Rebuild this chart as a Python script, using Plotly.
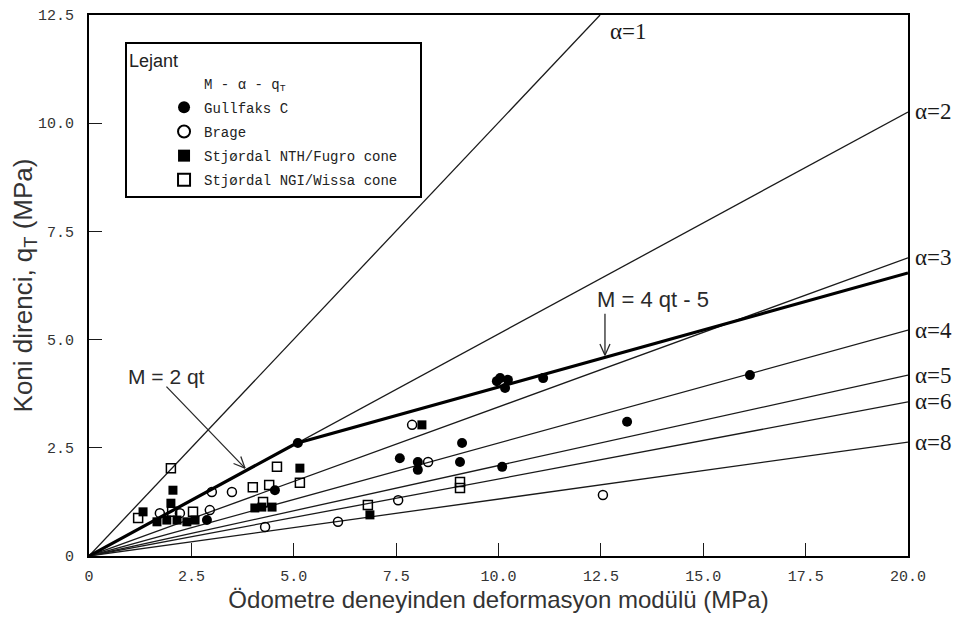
import math
import plotly.graph_objects as go

# ---------------- data ----------------
# alpha reference lines: start at origin, end points read at the plot edge
alpha_labels = ["α=1", "α=2", "α=3", "α=4", "α=5", "α=6", "α=8"]
alpha_end_x = [12.48, 20, 20, 20, 20, 20, 20]
alpha_end_y = [12.5, 10.26, 6.89, 5.22, 4.18, 3.56, 2.63]

# bold relation M = 2 qt  /  M = 4 qt - 5
bold_x = [0, 5.05, 20]
bold_y = [0, 2.6, 6.54]

# Gullfaks C (filled circles)
gull_x = [10.04, 10.23, 10.16, 9.96, 11.09, 16.14, 13.14, 10.09, 9.11, 9.06, 7.59, 8.03, 8.03, 5.10, 4.54, 2.88]
gull_y = [4.11, 4.07, 3.88, 4.04, 4.11, 4.18, 3.10, 2.06, 2.61, 2.17, 2.26, 2.17, 1.99, 2.61, 1.52, 0.83]

# Brage (open circles)
brage_x = [7.89, 8.28, 7.55, 6.08, 4.30, 3.49, 3.00, 2.95, 2.22, 1.73, 12.55]
brage_y = [3.03, 2.17, 1.29, 0.79, 0.67, 1.48, 1.48, 1.06, 0.99, 0.99, 1.41]

# Stjørdal NTH/Fugro cone (filled squares)
nth_x = [2.05, 2.00, 1.32, 1.66, 1.90, 2.15, 2.39, 2.59, 4.05, 4.22, 4.47, 5.15, 8.13, 6.86]
nth_y = [1.52, 1.22, 1.02, 0.79, 0.83, 0.83, 0.79, 0.83, 1.11, 1.13, 1.13, 2.03, 3.03, 0.95]

# Stjørdal NGI/Wissa cone (open squares)
ngi_x = [2.00, 1.20, 2.03, 2.54, 4.00, 4.40, 4.25, 4.59, 5.15, 9.06, 9.06, 6.81]
ngi_y = [2.03, 0.88, 1.02, 1.02, 1.59, 1.64, 1.25, 2.06, 1.69, 1.71, 1.57, 1.18]

x_ticks = [0, 2.5, 5, 7.5, 10, 12.5, 15, 17.5, 20]
x_ticktext = ["0", "2.5", "5.0", "7.5", "10.0", "12.5", "15.0", "17.5", "20.0"]
y_ticks = [0, 2.5, 5, 7.5, 10, 12.5]
y_ticktext = ["0", "2.5", "5.0", "7.5", "10.0", "12.5"]

# ---------------- figure ----------------
fig = go.Figure()
INK = "#1a1a1a"

for lab, ex, ey in zip(alpha_labels, alpha_end_x, alpha_end_y):
    fig.add_trace(go.Scatter(x=[0, ex], y=[0, ey], mode="lines",
                             line=dict(color=INK, width=1.3),
                             showlegend=False, hoverinfo="skip"))

fig.add_trace(go.Scatter(x=bold_x, y=bold_y, mode="lines",
                         line=dict(color="black", width=3.2),
                         showlegend=False, hoverinfo="skip"))

# legend header entry (no marker)
fig.add_trace(go.Scatter(x=[None], y=[None], mode="markers",
                         marker=dict(color="rgba(0,0,0,0)", size=9),
                         name="M - α - q<sub>T</sub>", legendgroup="h"))

fig.add_trace(go.Scatter(x=gull_x, y=gull_y, mode="markers", name="Gullfaks C",
                         legendgroup="g",
                         marker=dict(symbol="circle", size=10, color="black")))
fig.add_trace(go.Scatter(x=brage_x, y=brage_y, mode="markers", name="Brage",
                         legendgroup="b",
                         marker=dict(symbol="circle-open", size=9, color="black",
                                     line=dict(width=1.5))))
fig.add_trace(go.Scatter(x=nth_x, y=nth_y, mode="markers",
                         name="Stjørdal NTH/Fugro cone", legendgroup="n",
                         marker=dict(symbol="square", size=9, color="black")))
fig.add_trace(go.Scatter(x=ngi_x, y=ngi_y, mode="markers",
                         name="Stjørdal NGI/Wissa cone\u00a0\u00a0", legendgroup="w",
                         marker=dict(symbol="square-open", size=9, color="black",
                                     line=dict(width=1.5))))

annotations = []
# alpha labels
for i, (lab, ex, ey) in enumerate(zip(alpha_labels, alpha_end_x, alpha_end_y)):
    if i == 0:
        annotations.append(dict(x=ex, y=ey, text=lab, showarrow=False,
                                xanchor="left", yanchor="top", xshift=8, yshift=-2,
                                font=dict(family="Liberation Serif", size=23, color=INK)))
    else:
        annotations.append(dict(x=ex, y=ey, text=lab, showarrow=False,
                                xanchor="left", yanchor="middle", xshift=5,
                                font=dict(family="Liberation Serif", size=23, color=INK)))

# relation labels
annotations.append(dict(x=1.9, y=4.14, text="M = 2 qt", showarrow=False,
                        xanchor="center", yanchor="middle",
                        font=dict(family="Liberation Sans", size=21, color="#2a2a2a")))
annotations.append(dict(x=12.35, y=5.92, text="M = 4 qt - 5", showarrow=False,
                        xanchor="left", yanchor="middle",
                        font=dict(family="Liberation Sans", size=22, color="#2a2a2a")))


def open_arrow(x, y, dx, dy, barb=14, ang=24):
    annotations.append(dict(x=x, y=y, ax=dx, ay=dy, text="", showarrow=True,
                            arrowhead=0, arrowwidth=1.3, arrowcolor="#2a2a2a"))
    L = math.hypot(dx, dy)
    ux, uy = dx / L, dy / L
    for a in (ang, -ang):
        r = math.radians(a)
        bx = ux * math.cos(r) - uy * math.sin(r)
        by = ux * math.sin(r) + uy * math.cos(r)
        annotations.append(dict(x=x, y=y, ax=bx * barb, ay=by * barb, text="",
                                showarrow=True, arrowhead=0, arrowwidth=1.3,
                                arrowcolor="#2a2a2a"))


open_arrow(3.81, 2.03, -80, -83)
open_arrow(12.6, 4.64, 0, -43)

axis_common = dict(showgrid=False, zeroline=False, showline=True, mirror=True,
                   linecolor="black", linewidth=2, ticks="inside", ticklen=13,
                   tickcolor=INK, tickwidth=1.3, automargin=False,
                   tickfont=dict(family="Liberation Mono", size=15, color="#333"))

fig.update_layout(
    width=965, height=630, autosize=False,
    margin=dict(l=81, r=65, t=7, b=82),
    paper_bgcolor="white", plot_bgcolor="white",
    showlegend=True,
    legend=dict(x=0.044, y=0.95, xanchor="left", yanchor="top",
                bgcolor="white", bordercolor="black", borderwidth=2,
                font=dict(family="Liberation Mono", size=14, color="#222"),
                title=dict(text="Lejant", font=dict(family="Liberation Sans", size=18, color="#222")),
                indentation=37, tracegroupgap=3, itemsizing="constant"),
    xaxis=dict(range=[0, 20], tickvals=x_ticks, ticktext=x_ticktext,
               ticklabelstandoff=5,
               title=dict(text="Ödometre deneyinden deformasyon modülü (MPa)",
                          font=dict(family="Liberation Sans", size=24, color="#333"),
                          standoff=6),
               **axis_common),
    yaxis=dict(range=[0, 12.5], tickvals=y_ticks, ticktext=y_ticktext,
               ticklabelstandoff=10,
               title=dict(text="Koni direnci, q<sub>T</sub> (MPa)",
                          font=dict(family="Liberation Sans", size=26, color="#333"),
                          standoff=4),
               **axis_common),
    annotations=annotations,
)

fig.write_html("out.html")
